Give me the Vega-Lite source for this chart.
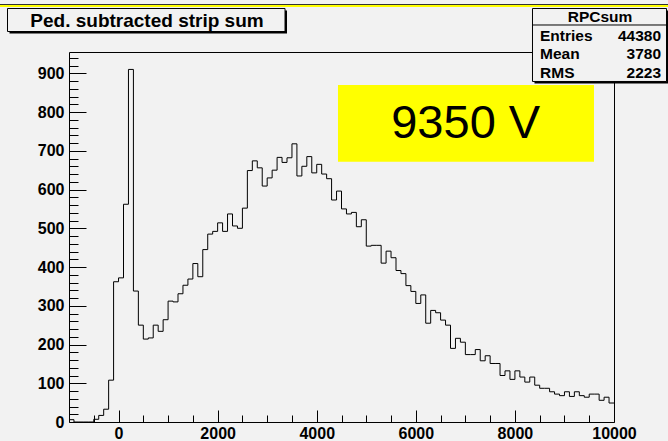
{
  "$schema": "https://vega.github.io/schema/vega-lite/v6.json",
  "width": 545,
  "height": 370,
  "autosize": {"type": "none"},
  "padding": {"left": 69, "top": 52, "right": 54, "bottom": 19},
  "background": "#f2f2f2",
  "config": {
    "view": {"stroke": "#000", "strokeWidth": 1, "fill": null},
    "axis": {"grid": false, "domain": false, "title": null}
  },
  "datasets": {
    "hist": [
      {"x": -1000, "n": 6}, {"x": -900, "n": 0}, {"x": -800, "n": 0}, {"x": -700, "n": 0}, {"x": -600, "n": 0},
      {"x": -500, "n": 7}, {"x": -400, "n": 17}, {"x": -300, "n": 33}, {"x": -200, "n": 108}, {"x": -100, "n": 362},
      {"x": 0, "n": 372}, {"x": 100, "n": 562}, {"x": 200, "n": 910}, {"x": 300, "n": 338}, {"x": 400, "n": 250},
      {"x": 500, "n": 214}, {"x": 600, "n": 217}, {"x": 700, "n": 250}, {"x": 800, "n": 234}, {"x": 900, "n": 264},
      {"x": 1000, "n": 312}, {"x": 1100, "n": 310}, {"x": 1200, "n": 331}, {"x": 1300, "n": 353}, {"x": 1400, "n": 369},
      {"x": 1500, "n": 409}, {"x": 1600, "n": 375}, {"x": 1700, "n": 445}, {"x": 1800, "n": 485}, {"x": 1900, "n": 492},
      {"x": 2000, "n": 514}, {"x": 2100, "n": 492}, {"x": 2200, "n": 537}, {"x": 2300, "n": 506}, {"x": 2400, "n": 500},
      {"x": 2500, "n": 552}, {"x": 2600, "n": 649}, {"x": 2700, "n": 674}, {"x": 2800, "n": 656}, {"x": 2900, "n": 609},
      {"x": 3000, "n": 630}, {"x": 3100, "n": 650}, {"x": 3200, "n": 683}, {"x": 3300, "n": 670}, {"x": 3400, "n": 682},
      {"x": 3500, "n": 718}, {"x": 3600, "n": 635}, {"x": 3700, "n": 660}, {"x": 3800, "n": 685}, {"x": 3900, "n": 643},
      {"x": 4000, "n": 665}, {"x": 4100, "n": 640}, {"x": 4200, "n": 628}, {"x": 4300, "n": 573}, {"x": 4400, "n": 596},
      {"x": 4500, "n": 550}, {"x": 4600, "n": 537}, {"x": 4700, "n": 541}, {"x": 4800, "n": 504}, {"x": 4900, "n": 522},
      {"x": 5000, "n": 454}, {"x": 5100, "n": 456}, {"x": 5200, "n": 456}, {"x": 5300, "n": 410}, {"x": 5400, "n": 441},
      {"x": 5500, "n": 424}, {"x": 5600, "n": 391}, {"x": 5700, "n": 383}, {"x": 5800, "n": 352}, {"x": 5900, "n": 337},
      {"x": 6000, "n": 306}, {"x": 6100, "n": 328}, {"x": 6200, "n": 255}, {"x": 6300, "n": 288}, {"x": 6400, "n": 282},
      {"x": 6500, "n": 263}, {"x": 6600, "n": 250}, {"x": 6700, "n": 190}, {"x": 6800, "n": 216}, {"x": 6900, "n": 206},
      {"x": 7000, "n": 174}, {"x": 7100, "n": 174}, {"x": 7200, "n": 187}, {"x": 7300, "n": 158}, {"x": 7400, "n": 171},
      {"x": 7500, "n": 151}, {"x": 7600, "n": 151}, {"x": 7700, "n": 120}, {"x": 7800, "n": 132}, {"x": 7900, "n": 110},
      {"x": 8000, "n": 132}, {"x": 8100, "n": 116}, {"x": 8200, "n": 103}, {"x": 8300, "n": 116}, {"x": 8400, "n": 95},
      {"x": 8500, "n": 87}, {"x": 8600, "n": 87}, {"x": 8700, "n": 78}, {"x": 8800, "n": 72}, {"x": 8900, "n": 68},
      {"x": 9000, "n": 78}, {"x": 9100, "n": 66}, {"x": 9200, "n": 78}, {"x": 9300, "n": 68}, {"x": 9400, "n": 64},
      {"x": 9500, "n": 72}, {"x": 9600, "n": 72}, {"x": 9700, "n": 56}, {"x": 9800, "n": 64}, {"x": 9900, "n": 49},
      {"x": 10000, "n": 49}
    ]
  },
  "resolve": {"axis": {"x": "independent", "y": "independent"}},
  "layer": [
    {
      "data": {"values": [{}]},
      "mark": {"type": "rect", "fill": "#ffff00", "clip": false},
      "encoding": {
        "x": {"datum": 4429, "type": "quantitative", "scale": {"domain": [-1000, 10000], "nice": false, "zero": false}, "axis": null},
        "x2": {"datum": 9596},
        "y": {"datum": 869.8, "type": "quantitative", "scale": {"domain": [0, 955], "nice": false, "zero": false}, "axis": null},
        "y2": {"datum": 671.9}
      }
    },
    {
      "data": {"values": [{}]},
      "mark": {"type": "rect", "fill": "#000", "clip": false},
      "encoding": {
        "x": {"datum": -2201, "type": "quantitative", "scale": {"domain": [-1000, 10000], "nice": false, "zero": false}, "axis": null},
        "x2": {"datum": 3400},
        "y": {"datum": 1062.1, "type": "quantitative", "scale": {"domain": [0, 955], "nice": false, "zero": false}, "axis": null},
        "y2": {"datum": 1002.7}
      }
    },
    {
      "data": {"values": [{}]},
      "mark": {"type": "rect", "fill": "#f2f2f2", "stroke": "#000", "strokeWidth": 1, "clip": false},
      "encoding": {
        "x": {"datum": -2241, "type": "quantitative", "scale": {"domain": [-1000, 10000], "nice": false, "zero": false}, "axis": null},
        "x2": {"datum": 3360},
        "y": {"datum": 1067.3, "type": "quantitative", "scale": {"domain": [0, 955], "nice": false, "zero": false}, "axis": null},
        "y2": {"datum": 1007.9}
      }
    },
    {
      "data": {"values": [{}]},
      "mark": {"type": "text", "font": "Liberation Sans", "fontWeight": "bold", "fontSize": 19, "color": "#000", "align": "center", "baseline": "middle", "clip": false},
      "encoding": {
        "x": {"datum": 574, "type": "quantitative", "scale": {"domain": [-1000, 10000], "nice": false, "zero": false}, "axis": null},
        "y": {"datum": 1036.3, "type": "quantitative", "scale": {"domain": [0, 955], "nice": false, "zero": false}, "axis": null},
        "text": {"value": "Ped. subtracted strip sum"}
      }
    },
    {
      "data": {"values": [{}]},
      "mark": {"type": "rect", "fill": "#000", "clip": false},
      "encoding": {
        "x": {"datum": 8395, "type": "quantitative", "scale": {"domain": [-1000, 10000], "nice": false, "zero": false}, "axis": null},
        "x2": {"datum": 11100},
        "y": {"datum": 1062.1, "type": "quantitative", "scale": {"domain": [0, 955], "nice": false, "zero": false}, "axis": null},
        "y2": {"datum": 873.7}
      }
    },
    {
      "data": {"values": [{}]},
      "mark": {"type": "rect", "fill": "#f2f2f2", "stroke": "#000", "strokeWidth": 1, "clip": false},
      "encoding": {
        "x": {"datum": 8355, "type": "quantitative", "scale": {"domain": [-1000, 10000], "nice": false, "zero": false}, "axis": null},
        "x2": {"datum": 11060},
        "y": {"datum": 1067.3, "type": "quantitative", "scale": {"domain": [0, 955], "nice": false, "zero": false}, "axis": null},
        "y2": {"datum": 878.9}
      }
    },
    {
      "data": {"values": [{}]},
      "mark": {"type": "rule", "color": "#000", "strokeWidth": 1, "clip": false},
      "encoding": {
        "x": {"datum": 8355, "type": "quantitative", "scale": {"domain": [-1000, 10000], "nice": false, "zero": false}, "axis": null},
        "x2": {"datum": 11060},
        "y": {"datum": 1024.7, "type": "quantitative", "scale": {"domain": [0, 955], "nice": false, "zero": false}, "axis": null}
      }
    },
    {
      "data": {"values": [{}]},
      "mark": {"type": "text", "font": "Liberation Sans", "fontWeight": "bold", "fontSize": 15.5, "color": "#000", "align": "center", "baseline": "middle", "clip": false},
      "encoding": {
        "x": {"datum": 9718, "type": "quantitative", "scale": {"domain": [-1000, 10000], "nice": false, "zero": false}, "axis": null},
        "y": {"datum": 1044.1, "type": "quantitative", "scale": {"domain": [0, 955], "nice": false, "zero": false}, "axis": null},
        "text": {"value": "RPCsum"}
      }
    },
    {
      "data": {"values": [{}]},
      "mark": {"type": "text", "font": "Liberation Sans", "fontWeight": "bold", "fontSize": 15.5, "lineHeight": 18.5, "color": "#000", "align": "left", "baseline": "middle", "clip": false},
      "encoding": {
        "x": {"datum": 8507, "type": "quantitative", "scale": {"domain": [-1000, 10000], "nice": false, "zero": false}, "axis": null},
        "y": {"datum": 996.3, "type": "quantitative", "scale": {"domain": [0, 955], "nice": false, "zero": false}, "axis": null},
        "text": {"value": ["Entries", "Mean", "RMS"]}
      }
    },
    {
      "data": {"values": [{}]},
      "mark": {"type": "text", "font": "Liberation Sans", "fontWeight": "bold", "fontSize": 15.5, "lineHeight": 18.5, "color": "#000", "align": "right", "baseline": "middle", "clip": false},
      "encoding": {
        "x": {"datum": 10949, "type": "quantitative", "scale": {"domain": [-1000, 10000], "nice": false, "zero": false}, "axis": null},
        "y": {"datum": 996.3, "type": "quantitative", "scale": {"domain": [0, 955], "nice": false, "zero": false}, "axis": null},
        "text": {"value": ["44380", "3780", "2223"]}
      }
    },
    {
      "data": {"values": [{}]},
      "mark": {"type": "rule", "color": "#333333", "strokeWidth": 1, "clip": false},
      "encoding": {
        "x": {"datum": -2500, "type": "quantitative", "scale": {"domain": [-1000, 10000], "nice": false, "zero": false}, "axis": null},
        "x2": {"datum": 11400},
        "y": {"datum": 1077.6, "type": "quantitative", "scale": {"domain": [0, 955], "nice": false, "zero": false}, "axis": null}
      }
    },
    {
      "data": {"values": [{}]},
      "mark": {"type": "rule", "color": "#ffff00", "strokeWidth": 2, "clip": false},
      "encoding": {
        "x": {"datum": -2500, "type": "quantitative", "scale": {"domain": [-1000, 10000], "nice": false, "zero": false}, "axis": null},
        "x2": {"datum": 11400},
        "y": {"datum": 1073.7, "type": "quantitative", "scale": {"domain": [0, 955], "nice": false, "zero": false}, "axis": null}
      }
    },
    {
      "data": {"values": [{}]},
      "mark": {"type": "text", "font": "Liberation Sans", "fontSize": 47, "color": "#000", "align": "center", "baseline": "middle", "clip": false},
      "encoding": {
        "x": {"datum": 7007, "type": "quantitative", "scale": {"domain": [-1000, 10000], "nice": false, "zero": false}, "axis": null},
        "y": {"datum": 769.2, "type": "quantitative", "scale": {"domain": [0, 955], "nice": false, "zero": false}, "axis": null},
        "text": {"value": "9350 V"}
      }
    },
    {
      "data": {"name": "hist"},
      "mark": {"type": "line", "interpolate": "step-after", "color": "#000", "strokeWidth": 1},
      "encoding": {
        "x": {
          "field": "x", "type": "quantitative",
          "scale": {"domain": [-1000, 10000], "nice": false, "zero": false},
          "axis": {
            "orient": "bottom", "values": [0, 2000, 4000, 6000, 8000, 10000], "format": "d",
            "ticks": true, "tickSize": -12, "tickColor": "#000", "tickWidth": 1,
            "labelPadding": 15.5, "labelFont": "Liberation Sans", "labelFontSize": 16, "labelFontWeight": "bold",
            "labelColor": "#000", "labelFlush": false, "labelOverlap": false, "labelBound": false
          }
        },
        "y": {
          "field": "n", "type": "quantitative",
          "scale": {"domain": [0, 955], "nice": false, "zero": false},
          "axis": {
            "orient": "left", "values": [0, 100, 200, 300, 400, 500, 600, 700, 800, 900], "format": "d",
            "ticks": true, "tickSize": -17, "tickColor": "#000", "tickWidth": 1,
            "labelPadding": 22, "labelFont": "Liberation Sans", "labelFontSize": 16, "labelFontWeight": "bold",
            "labelColor": "#000", "labelFlush": false, "labelOverlap": false, "labelBound": false
          }
        }
      }
    },
    {
      "data": {"name": "hist"},
      "mark": {"type": "line", "interpolate": "step-after", "strokeOpacity": 0},
      "encoding": {
        "x": {
          "field": "x", "type": "quantitative",
          "scale": {"domain": [-1000, 10000], "nice": false, "zero": false},
          "axis": {
            "orient": "bottom", "values": [-500, 500, 1000, 1500, 2500, 3000, 3500, 4500, 5000, 5500, 6500, 7000, 7500, 8500, 9000, 9500],
            "ticks": true, "tickSize": -7, "tickColor": "#000", "tickWidth": 1, "labels": false
          }
        },
        "y": {
          "field": "n", "type": "quantitative",
          "scale": {"domain": [0, 955], "nice": false, "zero": false},
          "axis": {
            "orient": "left", "values": [20, 40, 60, 80, 120, 140, 160, 180, 220, 240, 260, 280, 320, 340, 360, 380, 420, 440, 460, 480, 520, 540, 560, 580, 620, 640, 660, 680, 720, 740, 760, 780, 820, 840, 860, 880, 920, 940],
            "ticks": true, "tickSize": -9, "tickColor": "#000", "tickWidth": 1, "labels": false
          }
        }
      }
    }
  ]
}
